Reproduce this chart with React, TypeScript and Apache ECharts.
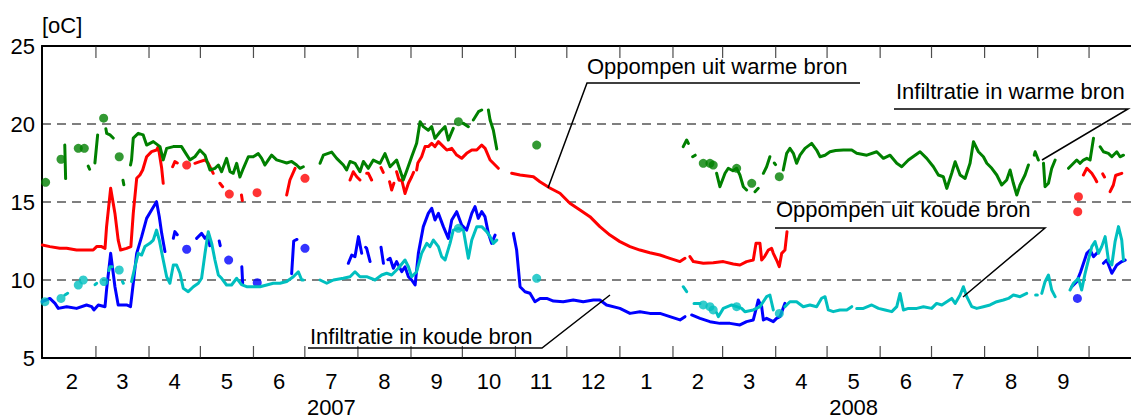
import React, { useEffect, useRef } from "react";
import * as echarts from "echarts";

type Pt = [number, number | null];

// x values: days since 2007-01-01; y values: temperature in °C
const X_MIN = 27.5;
const X_MAX = 663.5;

const monthYears = [2007, 2007, 2007, 2007, 2007, 2007, 2007, 2007, 2007, 2007, 2007, 2008, 2008, 2008, 2008, 2008, 2008, 2008, 2008, 2008];
const monthNums = [2, 3, 4, 5, 6, 7, 8, 9, 10, 11, 12, 1, 2, 3, 4, 5, 6, 7, 8, 9];
const yearLabels = ["2007", "2008"];
const yearLabelMonth = [7, 5];
const yTicks = [5, 10, 15, 20, 25];

const warmInfiltratie: Pt[] = [
  [40.8, 18.65], [41.3, 16.5], [41.5, null],
  [54.5, 17.3], [55.3, 17.1], [56, null],
  [58.4, 17.5], [60, 19.3], [61, null],
  [64.8, 19.7], [65.3, 19.4], [67.2, 19.3], [69.1, 19.1], [70, null],
  [74.8, 16.4], [75.3, 16.1], [76, null],
  [79.2, 17.37], [79.8, 17.7], [80.8, 19.1], [83.7, 19.4], [86.6, 19.3], [88.6, 18.65], [92.5, 18.87], [96.4, 18.55],
  [98.3, 17.7], [100.3, 18.44], [104.2, 18.55], [109, 18.55], [111, 18.2], [113.9, 17.7], [116.8, 17.9], [119.7, 18.33],
  [122.7, 18.0], [125.6, 17.05], [128.5, 17.16], [130.5, 17.37], [132.4, 16.94], [135.3, 17.8], [137.3, 16.94], [139.2, 16.84],
  [141.2, 17.48], [143.1, 16.6], [145.1, 17.16], [148, 17.9], [150.9, 17.9], [153.8, 18.1], [155.8, 17.8], [157.7, 17.37],
  [159.7, 17.7], [161.6, 18.0], [164.5, 17.7], [167.4, 17.6], [170.4, 17.5], [173.3, 17.6], [176.2, 17.37], [178.2, 17.16], [180.1, 17.26],
  [185, null],
  [189.9, 17.48], [191.8, 18.0], [196.7, 18.2], [199.6, 17.8], [203.5, 17.37], [205.4, 17.05], [207.4, 17.6], [210.3, 17.48],
  [213.2, 16.94], [215.2, 17.6], [218.1, 17.16], [221, 17.69], [224.9, 17.48], [227.8, 18.1], [230.8, 17.26], [234.6, 17.69],
  [238.5, 16.41], [240.5, 17.0], [243.4, 17.9], [246.3, 18.76], [248.3, 20.15], [250.2, 19.83], [253.1, 19.6], [255.1, 19.83],
  [257, 19.08], [260, 19.5], [262.9, 19.83], [264.8, 18.97], [267.7, 19.72], [269, null],
  [273.6, 20.04], [276.5, 19.83], [278, null],
  [279.4, 20.26], [282.4, 20.79], [284.3, 20.9], [286, null],
  [288.2, 20.9], [289.2, 20.26], [291.1, 19.6], [293.1, 18.4], [295, null],
  [402, 18.55], [404, 18.97], [405, 18.76], [406, null],
  [407.5, 17.9], [409, 18.0], [410, null],
  [421.5, 16.84], [423.4, 15.98], [426.4, 16.84], [428.3, 17.16], [431, 17.0], [433.2, 17.16], [435.1, 16.73], [437.1, 15.98], [439, 15.77], [440, null],
  [443.9, 15.66], [445.8, 15.88], [447, null],
  [448.8, 16.84], [450.7, 17.26], [452.6, 17.9], [453.5, null],
  [455.2, 17.5], [455.9, 17.4], [456.5, null],
  [460.4, 17.05], [462.4, 18.12], [464.3, 18.44], [466.3, 18.12], [468.2, 17.48], [470.2, 18.0], [473.1, 18.44], [477, 18.76],
  [479.9, 18.33], [481.9, 17.9], [484.8, 18.0], [487.7, 18.22], [491, 18.3], [495.5, 18.33], [500.4, 18.33], [503.3, 18.12],
  [509.2, 18.0], [515, 18.22], [518.9, 17.8], [522.8, 18.0], [526.7, 17.48], [529.6, 17.26], [533.5, 17.69], [537.4, 18.0],
  [540.3, 18.22], [544.2, 17.8], [548.1, 17.26], [551, 16.73], [553.9, 16.62], [555.9, 15.87], [558.8, 16.84], [560.8, 17.58],
  [563.7, 16.73], [566.6, 16.51], [569.5, 17.48], [571.5, 18.86], [574.4, 18.22], [577.3, 17.9], [579.3, 17.48], [582.2, 17.16],
  [585.1, 16.73], [588, 16.09], [590.9, 16.41], [592.9, 17.05], [594.8, 16.2], [596.8, 15.45], [598.7, 16.09], [601.6, 16.73],
  [603.6, 17.37], [605, null],
  [607.0, 18.0], [607.5, 18.22], [609.4, 17.69], [610.5, null],
  [612.4, 17.48], [613.3, 15.98], [615.3, 16.2], [617.2, 17.16], [619.2, 17.69], [621, null],
  [627, 17.16], [629.9, 17.48], [631.8, 17.69], [633.8, 17.48], [635.7, 17.69], [637.7, 17.8], [639.6, 17.69], [641.6, 19.08], [643, null],
  [645.5, 18.54], [647.4, 18.22], [650.3, 18.12], [652.3, 17.9], [655.2, 18.22], [657.1, 17.9], [659.1, 18.0],
];
const warmInfiltratieDots: Pt[] = [
  [29.6, 16.26], [38.6, 17.74], [48.7, 18.44], [52.2, 18.44], [63.5, 20.37], [72.6, 17.9], [270.7, 20.15],
  [316.4, 18.65], [413.7, 17.48], [417.6, 17.48], [419.5, 17.37], [433.2, 17.16], [442, 16.2], [458.1, 16.62],
];

const warmOppompen: Pt[] = [
  [27.7, 12.24], [32.1, 12.14], [37.9, 12.03], [41.9, 12.03], [47.7, 11.92], [53.5, 11.92], [57.4, 11.92], [59.4, 12.14],
  [62.3, 12.14], [64.3, 12.03], [65.2, 13.4], [67.6, 15.88], [70.1, 14.27], [72, 12.56], [73.4, 11.92], [76.9, 12.03],
  [79.4, 12.14], [80.8, 14.27], [82.8, 16.52], [84.7, 16.73], [86.3, 17.05], [88.6, 17.9], [91.5, 18.23], [94.4, 18.33],
  [95.4, 18.55], [97.4, 17.16], [98.3, 16.2], [100, null],
  [103.8, 17.26], [105.1, 17.59], [106.5, 17.5], [108, null],
  [116.8, 17.48], [119.7, 17.59], [122.7, 17.69], [124.6, 17.48], [127.5, 16.84], [129, null],
  [131.4, 16.2], [133, 15.98], [134, null],
  [144, 15.45], [144.5, 15.1], [145, null],
  [170.4, 15.45], [172.3, 16.41], [175.3, 17.16], [177, null],
  [207.4, 16.41], [209.3, 16.94], [211.3, 16.62], [213.2, 16.41], [215, null],
  [217.1, 16.84], [218.1, 16.84], [220, 16.41], [221, null],
  [225.5, 17.2], [226.8, 16.9], [228, null],
  [230.5, 16.3], [231.7, 15.77], [233, 16.2], [233.8, null],
  [234.6, 16.94], [236, 16.4], [237.6, 16.41], [239.5, 15.55], [241.5, 16.2], [243.4, 16.62], [244.5, 16.9], [245.4, null],
  [246.3, 17.05], [247, 17.5], [249.2, 17.9], [251.2, 18.55], [253.1, 18.55], [255.1, 18.76], [257, 18.55], [259, 18.87],
  [261.9, 18.55], [263.9, 18.33], [266.8, 18.44], [269.7, 18.01], [272.6, 17.8], [275.5, 18.12], [278.5, 18.33], [281.4, 18.33],
  [284.3, 18.65], [286.3, 18.44], [289.2, 17.69], [291.1, 17.48], [294, 17.16], [297, null],
  [301.8, 16.84], [306.7, 16.73], [314.5, 16.62], [318.3, 16.3], [324.1, 15.9], [330, 15.56], [335.8, 14.92], [341.7, 14.49],
  [347.5, 14.06], [353.3, 13.42], [359.2, 12.88], [365, 12.46], [370.9, 12.14], [376.7, 11.92], [382.5, 11.75], [388.4, 11.6],
  [394.2, 11.39], [400.1, 11.18], [403, 11.39], [404.5, null],
  [405.9, 11.5], [407.9, 11.18], [413.7, 11.07], [419.5, 11.11], [425.4, 11.18], [431.2, 11.03], [435.1, 10.96], [439, 11.18],
  [442.9, 11.28], [444.5, 12.35], [446.8, 12.35], [447.8, 11.28], [449.5, 11.5], [451.7, 11.92], [453.6, 12.03], [454.6, 11.71],
  [456.5, 11.28], [458.1, 10.86], [459.5, 11.71], [461.4, 11.92], [462.6, 13.1], [464, null],
  [635.7, 16.73], [637.7, 17.16], [640.6, 16.84], [642.5, 16.51], [643.5, 16.3], [645, null],
  [647, 16.8], [648, 16.6], [649, null],
  [651.3, 15.66], [653.2, 16.09], [654.5, 16.7], [655.2, 16.73], [658.1, 16.84],
];
const warmOppompenDots: Pt[] = [
  [112, 17.37], [136.9, 15.51], [153.1, 15.6], [181.1, 16.52], [632.8, 15.34], [632.4, 14.38],
];

const koudeInfiltratie: Pt[] = [
  [27.7, 8.61], [32.1, 8.82], [35.1, 8.5], [37, 8.18], [41.9, 8.29], [47.7, 8.18], [53.5, 8.4], [56.5, 8.29],
  [57.8, 8.08], [60.4, 8.4], [64.3, 8.29], [65.2, 9.36], [67.6, 11.71], [70.1, 9.57], [72, 8.4], [76.9, 8.4],
  [79.2, 8.29], [80.8, 9.79], [82.8, 11.71], [85.7, 12.78], [88.6, 13.95], [91.5, 14.49], [94.4, 15.02], [96, 14.06],
  [97.4, 12.99], [99.3, 11.82], [101, null],
  [104.2, 12.67], [105.1, 13.1], [106.5, 12.9], [108, null],
  [117.8, 12.67], [120.7, 12.99], [122.7, 12.67], [124.6, 12.88], [125.5, 12.2], [127, null],
  [131, 12.5], [131.6, 12.2], [132.5, null],
  [144.2, 10.85], [144.7, 9.79], [145.5, null],
  [173.3, 10.4], [174.5, 12.5], [176.4, 12.6], [177.5, null],
  [206.4, 11.07], [208.4, 11.6], [210.3, 11.5], [212.3, 12.78], [214.2, 11.71], [215.5, null],
  [216.5, 12.1], [217.1, 12.03], [219.1, 11.18], [220.5, null],
  [225.5, 12.1], [226.9, 11.07], [228, null],
  [229.5, 11.3], [230.8, 11.39], [232.7, 10.75], [234.6, 11.18], [237.6, 10.54], [239.5, 10.85], [241.5, 10.21], [243.4, 10.0],
  [245.4, 9.68], [247.3, 11.71], [250.2, 13.42], [253.1, 14.27], [255.1, 14.6], [257, 13.85], [259, 14.27], [261.9, 13.42],
  [264.8, 12.67], [266.8, 13.85], [269.7, 14.38], [272.6, 13.53], [275.5, 13.2], [278.5, 14.27], [280.4, 14.7], [282.3, 13.95],
  [284.3, 14.38], [286.2, 14.06], [288.2, 12.99], [290.1, 12.35], [292.1, 12.88], [294, null],
  [302.8, 12.99], [304.7, 11.92], [306.7, 9.57], [309.6, 9.25], [312.5, 9.15], [315.4, 8.61], [318.4, 8.82], [322.3, 8.82],
  [326.2, 8.65], [331.9, 8.61], [337.8, 8.72], [343.6, 8.61], [349.5, 8.72], [353.3, 8.72], [357.2, 8.4], [365, 8.18],
  [370.9, 7.86], [376.7, 7.97], [382.5, 7.86], [388.4, 7.86], [394.2, 7.65], [400.1, 7.44], [403, 7.65], [404.8, null],
  [406.9, 7.76], [411.8, 7.54], [417.6, 7.33], [423.4, 7.22], [429.3, 7.22], [435.1, 7.12], [439, 7.33], [442.9, 7.44],
  [444.9, 8.29], [445.8, 8.72], [447.8, 8.29], [448.8, 7.44], [450.7, 7.54], [454.6, 7.33], [456.5, 7.54], [458.5, 7.65],
  [461.4, 8.5], [463, null],
  [628.9, 9.57], [631.8, 9.89], [634, 10.5], [637.7, 11.71], [639.6, 11.92], [641.6, 11.5], [644.5, 11.82], [646, null],
  [647.4, 11.07], [649.3, 11.28], [652.3, 10.43], [655.2, 10.96], [658.1, 11.18], [660.1, 11.28],
];
const koudeInfiltratieDots: Pt[] = [
  [112, 11.97], [136.5, 11.28], [153.2, 9.83], [181.1, 12.03], [632.2, 8.82],
];

const koudeOppompen: Pt[] = [
  [40.9, 9.04], [42.5, 9.15], [43.5, null],
  [58.5, 9.7], [59.4, 9.79], [60.5, null],
  [66.5, 10.6], [67.2, 10.85], [68.5, 10.85], [69.5, null],
  [74.5, 9.9], [75, 9.79], [76, null],
  [79.8, 9.9], [81.8, 10.85], [83.7, 11.71], [85.7, 11.6], [87.6, 12.14], [90.5, 12.35], [92.5, 12.56], [94.4, 13.2],
  [96, 12.56], [98.3, 11.28], [100.3, 10.21], [102.2, 9.79], [104.2, 10.96], [106.1, 10.96], [108.1, 10.43], [110, 9.47],
  [112.9, 9.25], [115.9, 9.57], [118.8, 9.79], [120.7, 10.11], [122.7, 11.71], [124.6, 13.1], [126.6, 12.35], [128.5, 11.28],
  [130.5, 10.32], [132.4, 10.11], [135.3, 9.68], [138.2, 9.68], [141.2, 10.11], [144, 9.7], [147, 9.57], [150.9, 9.57],
  [154.8, 9.57], [158.7, 9.68], [162.6, 9.79], [166.5, 9.79], [170.4, 9.9], [174.3, 10.21], [177.2, 10.53], [179.2, 10.0],
  [180.1, 10.0], [185, null],
  [189.9, 10.0], [193.8, 9.79], [197.7, 10.0], [203.5, 10.11], [207.4, 10.21], [210.3, 10.53], [213.2, 10.21], [217.1, 10.21],
  [222, 10.0], [225.9, 10.32], [228.8, 10.43], [231.7, 10.32], [235.6, 10.75], [239.5, 11.28], [241.5, 10.85], [243.4, 10.21],
  [246.3, 10.53], [249.2, 11.71], [252.2, 12.35], [254.1, 12.14], [256.1, 12.56], [259, 12.14], [260.9, 11.5], [262.9, 11.28],
  [265.8, 12.35], [267.7, 13.2], [270.7, 13.31], [273.6, 13.2], [276.5, 11.39], [278.5, 12.56], [281.4, 13.42], [284.3, 13.42],
  [287.2, 13.1], [289.2, 12.78], [291.1, 12.35], [293.1, 12.56], [295, null],
  [402, 9.57], [404, 9.25], [405.5, null],
  [408.3, 8.5], [411.8, 8.5], [412.8, null],
  [421.5, 7.9], [422.5, 7.65], [425.4, 8.18], [430.3, 8.4], [433.2, 8.29], [436.1, 8.18], [438, 7.97], [442.9, 8.08],
  [446.8, 8.29], [450.7, 8.93], [452.6, 9.04], [454.6, 8.08], [456, null],
  [461.4, 8.29], [464.3, 8.61], [468.2, 8.61], [472.1, 8.29], [476, 8.4], [479.9, 8.29], [482.8, 8.83], [484.8, 8.93],
  [486.7, 8.08], [489.6, 7.97], [493.5, 8.08], [497.5, 8.08], [500.4, 8.29], [501.8, null],
  [503.3, 8.18], [507.2, 8.18], [512.1, 8.4], [516, 8.18], [519.9, 8.08], [523.8, 7.97], [526.7, 8.29], [528.6, 9.14],
  [530.6, 8.08], [533.5, 8.18], [538.4, 8.18], [542.3, 8.29], [547.1, 8.18], [550, 8.5], [553, 8.4], [555.9, 8.61],
  [558.8, 8.82], [560.8, 8.5], [563.7, 9.04], [565.6, 9.57], [567.6, 8.93], [570.5, 8.29], [573.4, 8.18], [577.3, 8.29],
  [581.2, 8.4], [585.1, 8.61], [589, 8.72], [591.9, 8.82], [594.8, 9.04], [598.7, 8.93], [602.6, 9.14], [605, null],
  [607.8, 9.04], [608.8, 9.04], [610, null],
  [611.4, 9.14], [613.3, 9.89], [615.3, 10.32], [617.2, 9.36], [619.2, 8.93], [621, null],
  [627.9, 9.36], [629.9, 9.79], [632.8, 10.1], [634.7, 9.36], [636.7, 10.43], [638.6, 11.28], [640.6, 12.14], [642.5, 12.46],
  [644.5, 11.71], [646.4, 12.14], [648.4, 12.78], [650.3, 11.28], [652.3, 10.96], [654.2, 12.46], [656.2, 13.42], [658.1, 12.56],
  [659.1, 11.28],
];
const koudeOppompenDots: Pt[] = [
  [29.2, 8.61], [38.6, 8.82], [48.7, 9.68], [51.6, 10.0], [63.7, 9.9], [72.6, 10.64], [270.7, 13.31],
  [316.4, 10.11], [413.7, 8.4], [417.6, 8.29], [419.5, 8.08], [433.2, 8.29], [458.1, 7.86],
];

const annotationTexts = [
  "Oppompen uit warme bron",
  "Infiltratie in warme bron",
  "Oppompen uit koude bron",
  "Infiltratie in koude bron",
];

const DAY0 = Date.UTC(2007, 0, 1);
const dayOf = (y: number, m: number) => (Date.UTC(y, m - 1, 1) - DAY0) / 86400000;

const FONT = '"Liberation Sans", Arial, sans-serif';

export default function App() {
  const ref = useRef<HTMLDivElement>(null);

  useEffect(() => {
    if (!ref.current) return;
    const chart = echarts.init(ref.current, undefined, { renderer: "svg" });

    const starts = monthYears.map((y, i) => dayOf(y, monthNums[i]));
    const ends = monthYears.map((y, i) =>
      monthNums[i] === 12 ? dayOf(y + 1, 1) : dayOf(y, monthNums[i] + 1)
    );
    const tickDays = ends.filter((d) => d > X_MIN && d < X_MAX);
    const labelDays = starts.map((s, i) => (Math.max(s, X_MIN) + Math.min(ends[i], X_MAX)) / 2);
    const yearDays = yearLabels.map((yl, i) => {
      const y = Number(yl);
      const m = yearLabelMonth[i];
      const s = dayOf(y, m);
      const e = m === 12 ? dayOf(y + 1, 1) : dayOf(y, m + 1);
      return (s + e) / 2;
    });
    const nearest = (arr: number[], v: number) => {
      let bi = 0;
      arr.forEach((a, i) => {
        if (Math.abs(a - v) < Math.abs(arr[bi] - v)) bi = i;
      });
      return bi;
    };
    const yMin = yTicks[0];
    const yMax = yTicks[yTicks.length - 1];

    const lineSeries = (name: string, data: Pt[], color: string, z: number) => ({
      name,
      type: "line",
      data,
      showSymbol: false,
      connectNulls: false,
      z,
      lineStyle: { color, width: 3, cap: "round", join: "round" },
      itemStyle: { color },
    });
    const dotSeries = (name: string, data: Pt[], color: string, z: number) => ({
      name: name + " punten",
      type: "scatter",
      data,
      symbol: "circle",
      symbolSize: 9,
      z,
      itemStyle: { color },
    });
    const tickSeries = (name: string, yv: number, dir: number) => ({
      name,
      type: "scatter",
      data: tickDays.map((d) => [d, yv]),
      symbol: "rect",
      symbolSize: [1.2, 12],
      symbolOffset: [0, 6 * dir],
      clip: false,
      silent: true,
      z: 10,
      itemStyle: { color: "#222" },
    });

    const textEl = (text: string, x: number, y: number) => ({
      type: "text",
      x,
      y,
      style: { text, fill: "#000", font: `22px ${FONT}`, textAlign: "left", textVerticalAlign: "middle" },
      z: 100,
    });
    const polyEl = (points: number[][]) => ({
      type: "polyline",
      shape: { points },
      style: { stroke: "#000", lineWidth: 1.5, fill: "none" },
      z: 100,
    });

    const baseX = {
      type: "value",
      min: X_MIN,
      max: X_MAX,
      splitLine: { show: false },
    };

    const option: any = {
      animation: false,
      backgroundColor: "#fff",
      textStyle: { fontFamily: FONT },
      grid: { left: 42, right: 0, top: 46, bottom: 60, containLabel: false },
      xAxis: [
        {
          ...baseX,
          position: "bottom",
          axisLine: { show: true, lineStyle: { color: "#000", width: 2 } },
          axisTick: { show: false },
          axisLabel: {
            show: true,
            customValues: labelDays,
            margin: 12,
            fontSize: 22,
            color: "#000",
            fontFamily: FONT,
            formatter: (v: number) => String(monthNums[nearest(labelDays, v)]),
          },
        },
        {
          ...baseX,
          position: "bottom",
          axisLine: { show: false },
          axisTick: { show: false },
          axisLabel: {
            show: true,
            customValues: yearDays,
            margin: 38,
            fontSize: 22,
            color: "#000",
            fontFamily: FONT,
            formatter: (v: number) => yearLabels[nearest(yearDays, v)],
          },
        },
        {
          ...baseX,
          position: "top",
          axisLine: { show: true, lineStyle: { color: "#000", width: 2 } },
          axisTick: { show: false },
          axisLabel: { show: false },
        },
      ],
      yAxis: {
        type: "value",
        min: yMin,
        max: yMax,
        interval: 5,
        name: "[oC]",
        nameLocation: "end",
        nameGap: 10,
        nameTextStyle: { fontSize: 22, color: "#000", align: "left", fontFamily: FONT, padding: 0 },
        axisLine: { show: true, lineStyle: { color: "#000", width: 2 } },
        axisTick: { show: false },
        axisLabel: { fontSize: 22, color: "#000", margin: 7, fontFamily: FONT },
        splitLine: { show: true, lineStyle: { color: "#555", width: 1.5, type: [9, 6] } },
      },
      series: [
        tickSeries("maandgrenzen onder", yMin, -1),
        tickSeries("maandgrenzen boven", yMax, 1),
        lineSeries(annotationTexts[0], warmOppompen, "#ff0000", 2),
        dotSeries(annotationTexts[0], warmOppompenDots, "#ff0000", 2),
        lineSeries(annotationTexts[1], warmInfiltratie, "#008000", 3),
        dotSeries(annotationTexts[1], warmInfiltratieDots, "#008000", 3),
        lineSeries(annotationTexts[3], koudeInfiltratie, "#0000ff", 4),
        dotSeries(annotationTexts[3], koudeInfiltratieDots, "#0000ff", 4),
        lineSeries(annotationTexts[2], koudeOppompen, "#00bfbf", 5),
        dotSeries(annotationTexts[2], koudeOppompenDots, "#00bfbf", 5),
      ],
      graphic: [
        textEl(annotationTexts[0], 587, 66),
        polyEl([[860, 83], [587, 83], [548, 188]]),
        textEl(annotationTexts[1], 896, 91),
        polyEl([[894, 109], [1128, 109], [1042, 160]]),
        textEl(annotationTexts[2], 776, 209),
        polyEl([[775, 228], [1045, 228], [963, 297]]),
        textEl(annotationTexts[3], 310, 336),
        polyEl([[308, 348], [542, 348], [610, 295]]),
      ],
    };

    chart.setOption(option);
    return () => chart.dispose();
  }, []);

  return (
    <div
      ref={ref}
      style={{ position: "fixed", left: 0, top: 0, width: 1131, height: 418, background: "#fff" }}
    />
  );
}
